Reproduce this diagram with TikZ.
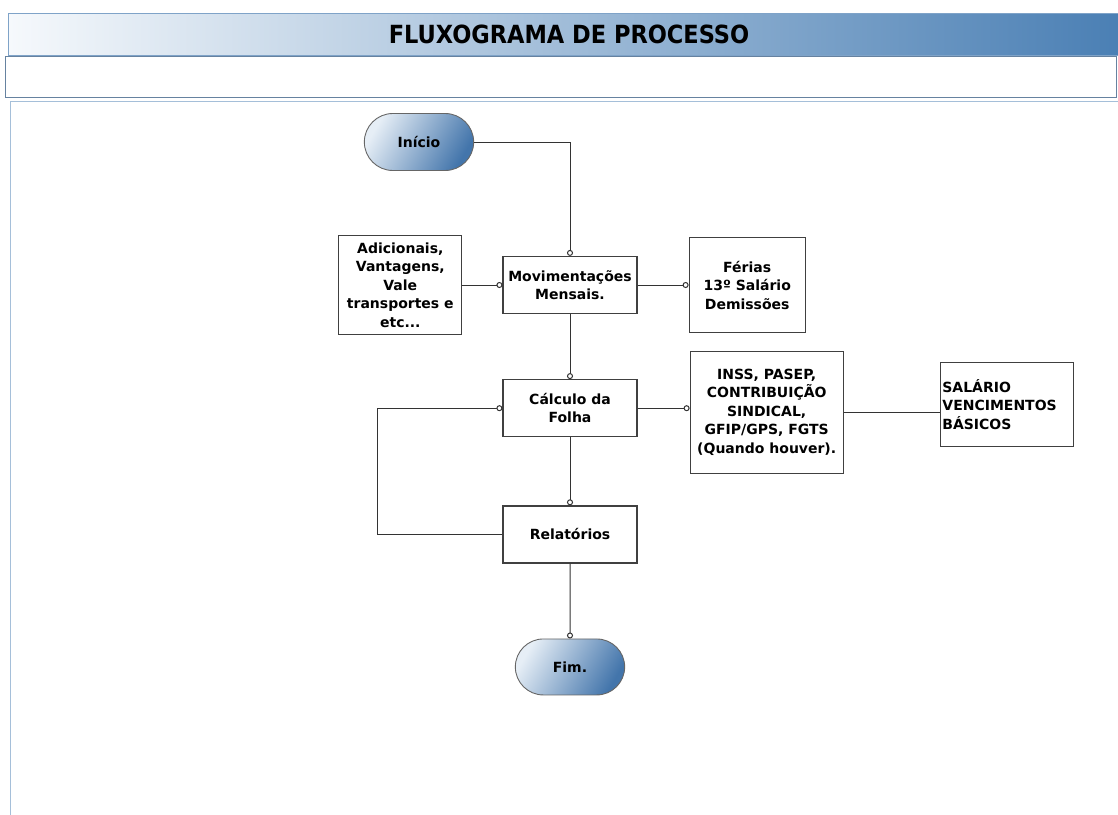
\documentclass[tikz,border=0pt]{standalone}
\usepackage{fontspec}
\setmainfont{DejaVu Sans}
\newfontfamily\titlefont{DejaVu Sans Condensed}
\usepackage{tikz}
\usetikzlibrary{shapes.misc,arrows.meta,positioning}
\definecolor{bardark}{HTML}{4A7FB4}
\definecolor{barlight}{HTML}{F6F9FC}
\definecolor{frameblue}{HTML}{7FA3C8}
\definecolor{termlight}{HTML}{E6EEF6}
\definecolor{termdark}{HTML}{4375AB}
\begin{document}
\begin{tikzpicture}[x=1pt,y=-1pt,font=\bfseries\fontsize{14}{18.5}\selectfont,
 c/.style={draw=black!75,line width=1.2pt,fill=white,align=center,minimum width=134pt,minimum height=57pt},
 t/.style={rounded rectangle,draw=black!60,line width=0.9pt,top color=termlight,bottom color=termdark,shading angle=60,minimum width=116pt,minimum height=57pt},
 con/.style={draw=black!80,line width=1pt,-{Circle[open,length=6pt,fill=white]}},
 lnk/.style={draw=black!80,line width=1pt}]
\useasboundingbox (0,0) rectangle (1118,814);
\draw[draw=frameblue,line width=1pt,left color=barlight,right color=bardark] (8,13) rectangle (1122,55);
\node[font=\titlefont\bfseries\fontsize{25}{28}\selectfont](title) at (569,34){FLUXOGRAMA DE PROCESSO};
\draw[draw=frameblue!80!black,line width=1pt] (5,56) rectangle (1116,97);
\draw[draw=frameblue!70,line width=1pt] (10,101) rectangle (1130,830);
\node[t](ini) at (419,142){Início};
\node[c](mov) at (570,285){Movimentações\\Mensais.};
\node[c,minimum width=123pt,minimum height=99pt,left=40pt of mov](adic){Adicionais,\\Vantagens,\\Vale\\transportes e\\etc...};
\node[c,minimum width=116pt,minimum height=95pt,right=51pt of mov](ferias){Férias\\13º Salário\\Demissões};
\node[c,below=65pt of mov](calc){Cálculo da\\Folha};
\node[c,minimum width=153pt,minimum height=122pt,right=52pt of calc,yshift=-4pt](enc){INSS, PASEP,\\CONTRIBUIÇÃO\\SINDICAL,\\GFIP/GPS, FGTS\\(Quando houver).};
\node[c,minimum width=133pt,minimum height=84pt,inner xsep=2pt,text width=129pt,align=left,right=96pt of enc,yshift=8pt](sal){SALÁRIO\\VENCIMENTOS\\BÁSICOS\\[8pt]};
\node[c,below=68pt of calc](rel){Relatórios};
\node[t,below=75pt of rel,minimum height=56pt](fim){Fim.};
\draw[con](ini.east)-|(mov.north);
\draw[con](adic)--(mov);\draw[con](mov)--(ferias);
\draw[con](mov)--(calc);\draw[con](calc.east)--(enc.west|-calc.east);
\draw[lnk](enc.east)--(sal.west|-enc.east);
\draw[con](calc)--(rel);\draw[con](rel)--(fim);
\draw[con](rel.west)--++(-125,0)|-(calc.west);
\end{tikzpicture}
\end{document}
